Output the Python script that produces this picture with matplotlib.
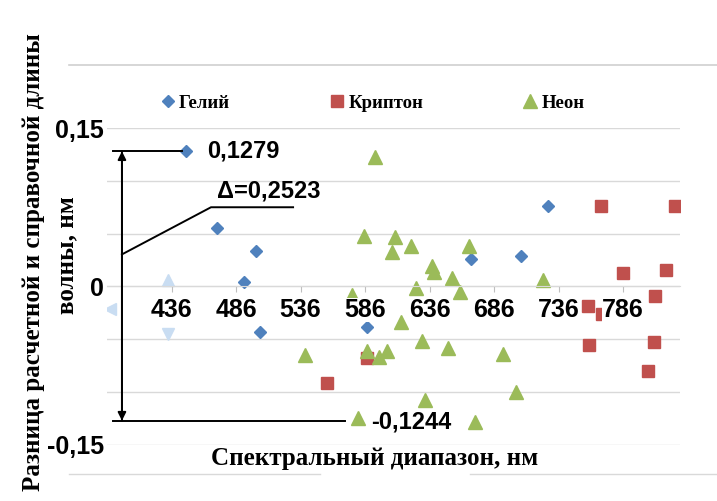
import numpy as np
import matplotlib
matplotlib.use('Agg')
import matplotlib.pyplot as plt
from matplotlib.lines import Line2D


# data (wavelength, nm ; difference, nm)

helium_x = [447.1, 471.3, 476.7, 492.2, 501.6, 504.8, 587.6, 667.8, 706.5, 728.1]
helium_y = [0.1279, 0.055, -0.021, 0.004, 0.034, -0.043, -0.038, 0.026, 0.029, 0.076]

krypton_x = [556.5, 587.1, 758.7, 759.6, 768.5, 769.4, 785.5, 805.4, 810.0, 810.4, 819.0, 826.3]
krypton_y = [-0.091, -0.068, -0.018, -0.055, 0.076, -0.026, 0.013, -0.080, -0.053, -0.009, 0.016, 0.076]

neon_x = [539.5, 575.9, 580.6, 585.2, 587.6, 593.8, 596.9, 603.1, 606.9, 609.3,
          613.9, 621.7, 625.5, 630.2, 632.5, 637.9, 639.5, 650.3, 653.4, 659.6,
          666.6, 671.3, 693.0, 703.1, 724.0]
neon_y = [-0.065, -0.008, -0.124, 0.048, -0.061, 0.123, -0.067, -0.061, 0.033, 0.0465,
          -0.034, 0.038, -0.001, -0.052, -0.107, 0.019, 0.014, -0.058, 0.0085, -0.005,
          0.038, -0.128, -0.064, -0.0996, 0.0066]

# faded marks around the 436 label
faded_x = [433.3, 433.3, 388.3]
faded_y = [0.006, -0.045, -0.021]
faded_m = ['^', 'v', '<']

x_ticks = [436, 486, 536, 586, 636, 686, 736, 786]
y_grid = [-0.15, -0.10, -0.05, 0, 0.05, 0.10, 0.15]
y_labels = {0.15: '0,15', 0: '0', -0.15: '-0,15'}

max_val, min_val = 0.1279, -0.1244

SANS = 'Liberation Sans'
SERIF = 'Liberation Serif'

fig = plt.figure(figsize=(7.17, 5.01), dpi=100)
ax = fig.add_axes([0.1492, 0.1118, 0.7992, 0.6327])

ax.set_xlim(386, 830)
ax.set_ylim(-0.15, 0.15)

for v in y_grid:
    ax.axhline(v, color='#D9D9D9', lw=1.0, zorder=0)

for s in ['top', 'right', 'left']:
    ax.spines[s].set_visible(False)
ax.spines['bottom'].set_position(('data', 0))
ax.spines['bottom'].set_color('#D9D9D9')

ax.set_xticks(x_ticks)
ax.set_xticklabels([str(t) for t in x_ticks], fontfamily=SANS, fontweight='bold', fontsize=18)
ax.tick_params(axis='x', direction='out', length=4, color='#BFBFBF', pad=4)
for lab in ax.get_xticklabels():
    lab.set_bbox(dict(facecolor='white', edgecolor='none', pad=0))

ax.set_yticks(list(y_labels.keys()))
ax.set_yticklabels(list(y_labels.values()), fontfamily=SANS, fontweight='bold', fontsize=18)
ax.tick_params(axis='y', length=0, pad=2)

# series
for x, y, m in zip(faded_x, faded_y, faded_m):
    ax.plot(x, y, marker=m, color='#C9DDF2', markersize=8, ls='none', zorder=1)
ax.plot(helium_x, helium_y, 'D', color='#4F81BD', markersize=6.3, ls='none', zorder=1, label='Гелий')
ax.plot(krypton_x, krypton_y, 's', color='#C0504D', markersize=8.5, ls='none', zorder=1, label='Криптон')
ax.plot(neon_x, neon_y, '^', color='#9BBB59', markersize=9.5, ls='none', zorder=1, label='Неон')

# annotation: range arrow
xa = 397.6
ax.annotate('', xy=(xa, 0.128), xytext=(xa, -0.127),
            arrowprops=dict(arrowstyle='-|>', lw=1.4, color='black', mutation_scale=12,
                            shrinkA=0, shrinkB=0))
ax.annotate('', xy=(xa, -0.127), xytext=(xa, 0.128),
            arrowprops=dict(arrowstyle='-|>', lw=1.4, color='black', mutation_scale=12,
                            shrinkA=0, shrinkB=0))
ax.plot([391, 444], [0.128, 0.128], color='black', lw=1.4, zorder=3)
ax.plot([391, 570.5], [-0.127, -0.127], color='black', lw=1.4, zorder=3)
ax.plot([xa, 466.6, 530.2], [0.0304, 0.075, 0.075], color='black', lw=1.4, zorder=3)

ax.text(463.5, 0.128, '0,' + str(max_val).split('.')[1], fontfamily=SANS, fontweight='bold',
        fontsize=17, va='center', ha='left')
ax.text(471.5, 0.0905, 'Δ=0,' + f'{max_val - min_val:.4f}'.split('.')[1], fontfamily=SANS,
        fontweight='bold', fontsize=17, va='center', ha='left')
ax.text(590.5, -0.128, '-0,' + str(-min_val).split('.')[1], fontfamily=SANS, fontweight='bold',
        fontsize=17, va='center', ha='left')

# legend
ax.legend(loc='center left', bbox_to_anchor=(151 / 717, 1 - 103 / 501),
          bbox_transform=fig.transFigure, ncol=3, frameon=False,
          prop=dict(family=SERIF, weight='bold', size=13.5),
          handlelength=0.8, handletextpad=0.2, columnspacing=5.3, borderpad=0)

# axis titles
fig.text(375 / 717, 1 - 459 / 501, 'Спектральный диапазон, нм', fontfamily=SERIF,
         fontweight='bold', fontsize=18, ha='center', va='center')
fig.text(34 / 717, 1 - 262 / 501, 'Разница расчетной и справочной длины', fontfamily=SERIF,
         fontweight='bold', fontsize=18, ha='center', va='center', rotation=90)
fig.text(67 / 717, 1 - 255 / 501, 'волны, нм', fontfamily=SERIF,
         fontweight='bold', fontsize=18, ha='center', va='center', rotation=90)

# chart border lines
fig.add_artist(Line2D([69 / 717, 1], [1 - 65 / 501] * 2, color='#D0D0D0', lw=1.2))
fig.add_artist(Line2D([69 / 717, 320 / 717], [1 - 474 / 501] * 2, color='#D9D9D9', lw=1.0))
fig.add_artist(Line2D([470 / 717, 1], [1 - 474 / 501] * 2, color='#D9D9D9', lw=1.0))

fig.savefig('out.png', dpi=100, facecolor='white')
